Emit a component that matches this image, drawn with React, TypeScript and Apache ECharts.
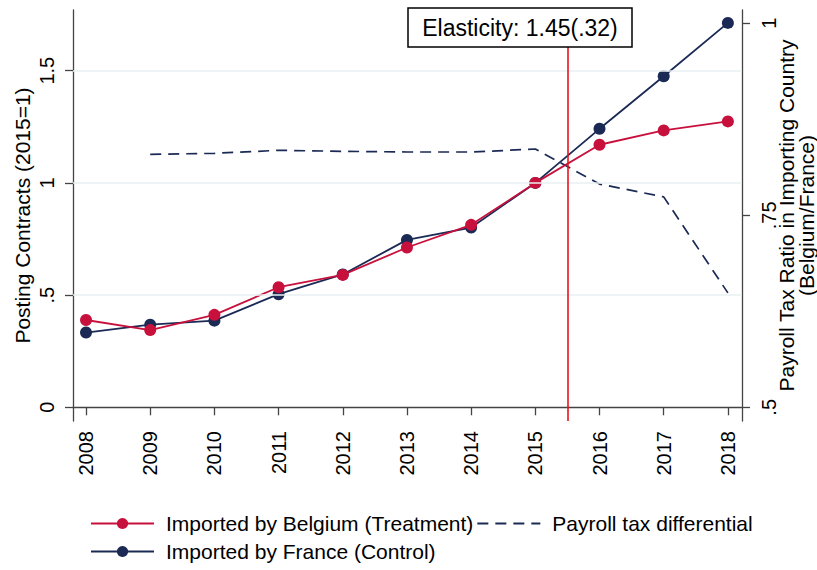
import React, { useEffect, useRef } from 'react';
import * as echarts from 'echarts';

const years = [2008, 2009, 2010, 2011, 2012, 2013, 2014, 2015, 2016, 2017, 2018];
const belgium = [0.389, 0.344, 0.412, 0.535, 0.59, 0.712, 0.813, 1.0, 1.17, 1.234, 1.274];
const france = [0.333, 0.368, 0.386, 0.504, 0.592, 0.746, 0.801, 1.0, 1.241, 1.475, 1.713];
const taxRatio = [null, 0.8294, 0.8307, 0.8346, 0.8333, 0.8324, 0.8324, 0.8363, 0.7907, 0.774, 0.649];
const leftTicks = [0, 0.5, 1, 1.5];
const rightTicks = [0.5, 0.75, 1];
const reformLine = 2015.5;
const annotation = 'Elasticity: 1.45(.32)';

const NAME_BE = 'Imported by Belgium (Treatment)';
const NAME_FR = 'Imported by France (Control)';
const NAME_TAX = 'Payroll tax differential';

const RED = '#c8103c';
const NAVY = '#1b2a55';
const FONT = '"Liberation Sans", Arial, Helvetica, sans-serif';

const fmt = (v: number) => {
  const s = String(v);
  return s.startsWith('0.') ? s.slice(1) : s;
};

export default function App() {
  const ref = useRef<HTMLDivElement>(null);
  useEffect(() => {
    if (!ref.current) return;
    const chart = echarts.init(ref.current, undefined, { renderer: 'svg' });
    const axisLine = { show: true, lineStyle: { color: '#444', width: 1.3 } };
    const axisTickBase = { show: true, length: 8, lineStyle: { color: '#444', width: 1.3 } };
    const legendText = { fontSize: 21, color: '#000', fontFamily: FONT, padding: [0, 0, 0, 7] };
    chart.setOption({
      animation: false,
      backgroundColor: '#fff',
      textStyle: { fontFamily: FONT },
      grid: { left: 73, right: 75, top: 10, bottom: 149, containLabel: false, outerBoundsMode: 'none' },
      legend: [
        {
          data: [NAME_BE, { name: NAME_TAX, itemStyle: { opacity: 0 } }],
          left: 90,
          top: 513,
          orient: 'horizontal',
          itemWidth: 63,
          itemHeight: 14,
          itemGap: 3,
          padding: 0,
          textStyle: legendText,
        },
        {
          data: [NAME_FR],
          left: 90,
          top: 541,
          orient: 'horizontal',
          itemWidth: 63,
          itemHeight: 14,
          padding: 0,
          textStyle: legendText,
        },
      ],
      xAxis: {
        type: 'value',
        min: 2007.797,
        max: 2018.22,
        axisLine,
        axisTick: { ...axisTickBase, customValues: years },
        axisLabel: {
          customValues: years,
          rotate: 90,
          margin: 10,
          fontSize: 20,
          color: '#000',
          fontFamily: FONT,
          formatter: (v: number) => String(v),
        },
        splitLine: { show: false },
      },
      yAxis: [
        {
          type: 'value',
          position: 'left',
          min: -0.0611,
          max: 1.7705,
          name: 'Posting Contracts (2015=1)',
          nameLocation: 'middle',
          nameGap: 40,
          nameMoveOverlap: false,
          nameTextStyle: { fontSize: 21, color: '#000', fontFamily: FONT },
          axisLine,
          axisTick: { ...axisTickBase, customValues: leftTicks },
          axisLabel: {
            customValues: leftTicks,
            rotate: 90,
            margin: 16,
            fontSize: 20,
            color: '#000',
            fontFamily: FONT,
            formatter: (v: number) => fmt(v),
          },
          splitLine: { show: false },
        },
        {
          type: 'value',
          position: 'right',
          min: 0.4822,
          max: 1.0173,
          name: 'Payroll Tax Ratio in Importing Country\n(Belgium/France)',
          nameLocation: 'middle',
          nameGap: 34,
          nameMoveOverlap: false,
          nameTextStyle: { fontSize: 21, color: '#000', fontFamily: FONT, lineHeight: 20, align: 'center' },
          axisLine,
          axisTick: { ...axisTickBase, customValues: rightTicks },
          axisLabel: {
            customValues: rightTicks,
            rotate: 90,
            margin: 17,
            fontSize: 20,
            color: '#000',
            fontFamily: FONT,
            formatter: (v: number) => fmt(v),
          },
          splitLine: { show: false },
        },
      ],
      graphic: [
        {
          type: 'group',
          z: 100,
          children: [
            {
              type: 'rect',
              shape: { x: 408, y: 8, width: 224, height: 39 },
              style: { fill: '#fff', stroke: '#000', lineWidth: 1.5 },
              z: 100,
            },
            {
              type: 'text',
              x: 520,
              y: 28,
              style: {
                text: annotation,
                fontSize: 23,
                fontFamily: FONT,
                fill: '#000',
                align: 'center',
                verticalAlign: 'middle',
              },
              z: 101,
            },
          ],
        },
      ],
      series: [
        {
          name: 'grid',
          type: 'line',
          data: [],
          yAxisIndex: 0,
          z: 1,
          silent: true,
          markLine: {
            silent: true,
            symbol: 'none',
            label: { show: false },
            lineStyle: { color: '#e8f0f2', width: 1.5, type: 'solid' },
            data: leftTicks.filter((t) => t > 0).map((t) => ({ yAxis: t })),
          },
        },
        {
          name: NAME_TAX,
          type: 'line',
          yAxisIndex: 1,
          data: years.map((y, i) => [y, taxRatio[i]]),
          symbol: 'none',
          showSymbol: false,
          connectNulls: false,
          lineStyle: { color: NAVY, width: 1.7, type: [11, 7] },
          itemStyle: { color: NAVY },
          z: 2,
        },
        {
          name: NAME_FR,
          type: 'line',
          yAxisIndex: 0,
          data: years.map((y, i) => [y, france[i]]),
          symbol: 'circle',
          symbolSize: 12,
          lineStyle: { color: NAVY, width: 1.8 },
          itemStyle: { color: NAVY },
          z: 3,
        },
        {
          name: NAME_BE,
          type: 'line',
          yAxisIndex: 0,
          data: years.map((y, i) => [y, belgium[i]]),
          symbol: 'circle',
          symbolSize: 12,
          lineStyle: { color: RED, width: 1.8 },
          itemStyle: { color: RED },
          z: 4,
          markLine: {
            silent: true,
            symbol: 'none',
            label: { show: false },
            lineStyle: { color: '#e8141c', width: 1.6, type: 'solid' },
            data: [{ xAxis: reformLine }],
          },
        },
      ],
    });
    return () => chart.dispose();
  }, []);
  return (
    <div
      ref={ref}
      style={{ position: 'fixed', left: 0, top: 0, width: 817, height: 570, background: '#fff' }}
    />
  );
}
